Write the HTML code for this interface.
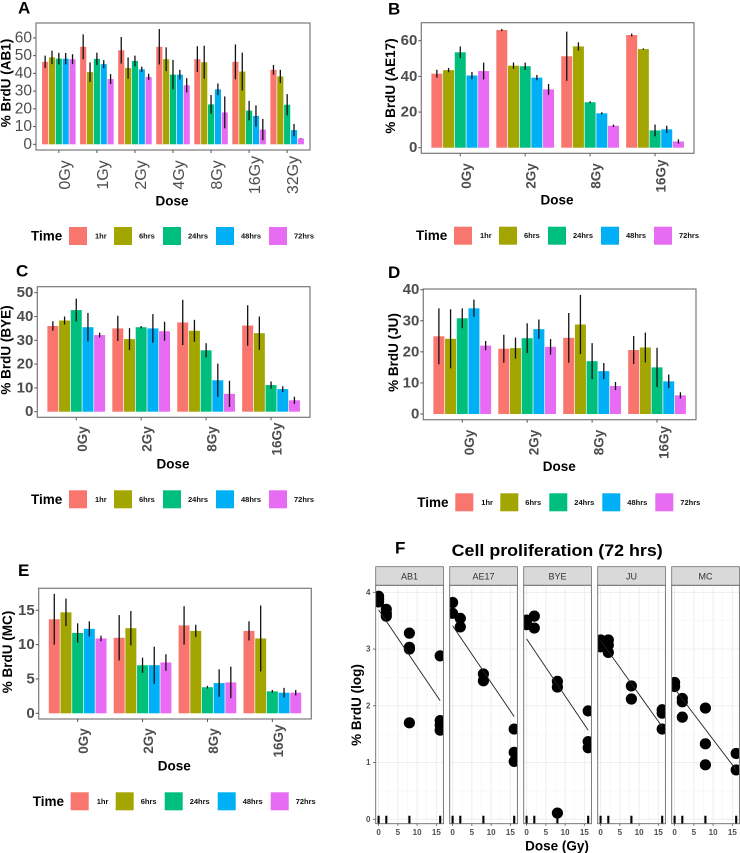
<!DOCTYPE html>
<html lang="en">
<head>
<meta charset="utf-8">
<title>BrdU dose response panels</title>
<style>
html,body{margin:0;padding:0;background:#fff;width:740px;height:853px;overflow:hidden}
svg{display:block;font-family:"Liberation Sans",sans-serif;filter:blur(0.3px)}
text{dominant-baseline:central}
</style>
</head>
<body>
<svg id="figure" width="740" height="853" viewBox="0 0 740 853" xmlns="http://www.w3.org/2000/svg"></svg>
<script>
const timeLabels = ['1hr', '6hrs', '24hrs', '48hrs', '72hrs'];
const timeColors = ['#F8766D', '#A3A500', '#00BF7D', '#00B0F6', '#E76BF3'];

const dosesA = ['0Gy', '1Gy', '2Gy', '4Gy', '8Gy', '16Gy', '32Gy'];
const dosesShort = ['0Gy', '2Gy', '8Gy', '16Gy'];

const ticksA = [0, 10, 20, 30, 40, 50, 60];
const valuesA = [
  [46.5, 49, 48.3, 48.3, 48],
  [55, 40.7, 48.2, 45.2, 36.8],
  [53, 43, 47, 42.3, 38],
  [55, 48, 39.3, 39.3, 33.3],
  [48, 46.3, 22.5, 31, 18],
  [46.5, 41, 19, 16, 8.3],
  [42, 38.3, 22.3, 8, 3.3]
];
const errorsA = [
  [3.5, 3.8, 3.3, 3.2, 2.8],
  [7, 5.5, 3.5, 2.3, 2.8],
  [7.5, 6, 3, 1.5, 1.8],
  [10, 6.7, 8.3, 2.7, 4],
  [7.3, 9.3, 5.3, 3.3, 9],
  [9.8, 10.7, 5.5, 6, 6],
  [2.7, 3.7, 6, 3.5, 0.2]
];

const ticksB = [0, 20, 40, 60];
const valuesB = [
  [41.5, 43.5, 53.5, 40.5, 43],
  [66, 46, 45.7, 39.3, 32.7],
  [51.3, 56.8, 25.5, 19.3, 12.3],
  [63.2, 55.3, 9.7, 10.3, 3.5]
];
const errorsB = [
  [2.2, 1.2, 3.3, 2, 4.7],
  [0.6, 1.8, 2, 1.5, 3],
  [13.8, 2.3, 0.5, 0.6, 0.7],
  [0.8, 0.4, 3.3, 2, 1.2]
];

const ticksC = [0, 10, 20, 30, 40, 50];
const valuesC = [
  [36, 38.3, 42.7, 35.5, 32.2],
  [35, 30.5, 35.5, 35, 33.8],
  [37.5, 34, 25.8, 13.2, 7.5],
  [36.2, 33, 11.2, 9.5, 4.8]
];
const errorsC = [
  [2, 1.7, 4.8, 6, 1],
  [5.3, 4.6, 0.5, 6, 4],
  [9.5, 4.6, 3, 7, 5.5],
  [8.5, 7, 1.5, 1.2, 1.5]
];

const ticksD = [0, 10, 20, 30, 40];
const valuesD = [
  [25, 24.2, 30.8, 34, 22],
  [21, 21.2, 24.4, 27.3, 21.6],
  [24.5, 28.8, 17, 13.8, 9],
  [20.6, 21.4, 15, 10.5, 6]
];
const errorsD = [
  [9, 9.5, 3.2, 2.8, 1.5],
  [4.5, 3.4, 4.8, 3.1, 2.5],
  [8, 9.5, 5.8, 2.6, 1.3],
  [4.5, 4.8, 6.3, 2.2, 1]
];

const ticksE = [0, 5, 10, 15];
const valuesE = [
  [13.7, 14.7, 11.7, 12.3, 10.9],
  [11, 12.4, 7, 7, 7.4],
  [12.8, 12, 3.8, 4.4, 4.5],
  [12, 10.9, 3.2, 3, 3]
];
const errorsE = [
  [3.7, 2, 1.4, 1.1, 0.4],
  [3.3, 2.5, 1.1, 2.7, 1.2],
  [2.8, 0.9, 0.2, 2, 2.3],
  [1.4, 4.8, 0.2, 0.7, 0.4]
];

const facetNames = ['AB1', 'AE17', 'BYE', 'JU', 'MC'];
const facetXTicks = [0, 5, 10, 15];
const facetYTicks = [0, 1, 2, 3, 4];
const pointDose = [
  [0, 0, 0, 2, 2, 2, 8, 8, 8, 8, 16, 16, 16, 16],
  [0, 0, 2, 2, 8, 8, 16, 16, 16],
  [0, 0, 2, 2, 8, 8, 8, 16, 16, 16],
  [0, 0, 0, 2, 2, 2, 8, 8, 16, 16, 16],
  [0, 0, 2, 2, 2, 8, 8, 8, 16, 16]
];
const pointLog = [
  [3.93, 3.88, 3.83, 3.7, 3.63, 3.58, 3.28, 3.03, 3, 1.7, 2.88, 1.74, 1.66, 1.57],
  [3.82, 3.63, 3.54, 3.39, 2.56, 2.44, 1.59, 1.18, 1.02],
  [3.51, 3.43, 3.58, 3.37, 2.43, 2.33, 0.11, 1.91, 1.37, 1.26],
  [3.16, 3.07, 3.04, 3.16, 3.07, 2.94, 2.35, 2.12, 1.93, 1.87, 1.59],
  [2.41, 2.34, 2.13, 2.07, 1.8, 1.96, 1.33, 0.96, 1.16, 0.87]
];
const fitStart = [3.69, 3.41, 3.18, 3.15, 2.3];
const fitEnd = [2.09, 1.81, 1.57, 1.63, 0.87];
const fitDoses = [0, 16];

const NS = 'http://www.w3.org/2000/svg';
const root = document.getElementById('figure');

function make(tag, attrs, parent) {
  const el = document.createElementNS(NS, tag);
  for (const k in attrs) el.setAttribute(k, attrs[k]);
  (parent || root).appendChild(el);
  return el;
}
function label(str, attrs, parent) {
  const el = make('text', attrs, parent);
  el.textContent = str;
  return el;
}

function drawLegend(parent, lx, ly) {
  const t = label('Time', {x: lx, y: ly, 'font-size': 13.5, 'font-weight': 700, fill: '#000'}, parent);
  
  
  const swatchOffsets = [38, 83, 132, 185, 238];
  const labelOffsets = [64, 108, 157, 210, 263];
  timeLabels.forEach((name, i) => {
    const s = make('rect', {x: lx + swatchOffsets[i], y: ly - 9, width: 18, height: 18, fill: timeColors[i]}, parent);
    
    
    const l = label(name, {x: lx + labelOffsets[i], y: ly, 'font-size': 7.5, 'font-weight': 700, fill: '#111'}, parent);
    
    
  });
}

function drawBarPanel(p) {
  const g = make('g', {});
  
  

  const letter = label(p.letter, {x: p.letterX, y: p.letterY, 'font-size': 17, 'font-weight': 700, fill: '#000'}, g);
  
  

  const [x0, y0, x1, y1] = p.box;
  const unit = (x1 - x0) / (p.doses.length - 1 + 1.2);
  const xScale = i => x0 + unit * (0.6 + i);
  const yScale = v => p.zeroY - v * p.pxPerUnit;
  const barW = unit * 0.9 / 5;

  p.values.forEach((row, gi) => {
    row.forEach((v, si) => {
      const bx = xScale(gi) - unit * 0.45 + si * barW;
      const b = make('rect', {x: bx + 0.35, y: yScale(v), width: barW - 0.7, height: p.zeroY - yScale(v), fill: timeColors[si]}, g);
      
      
    });
  });
  p.values.forEach((row, gi) => {
    row.forEach((v, si) => {
      const cx = xScale(gi) - unit * 0.45 + (si + 0.5) * barW;
      const e = p.errors[gi][si];
      const er = make('line', {x1: cx, x2: cx, y1: yScale(v - e), y2: yScale(v + e), stroke: '#111', 'stroke-width': 1.3}, g);
      
      
    });
  });

  const frame = make('rect', {x: x0, y: y0, width: x1 - x0, height: y1 - y0, fill: 'none', stroke: '#7a7a7a', 'stroke-width': 1.2}, g);
  
  

  const tickStyle = p.regular ? {weight: 400, ySize: 15.5, xSize: 16} : {weight: 700, ySize: 15, xSize: 13.5};
  p.ticks.forEach(v => {
    const m = make('line', {x1: x0 - 3, x2: x0, y1: yScale(v), y2: yScale(v), stroke: '#555', 'stroke-width': 1}, g);
    
    
    const t = label(String(v), {x: x0 - 4, y: yScale(v), 'text-anchor': 'end', 'font-size': tickStyle.ySize, 'font-weight': tickStyle.weight, fill: '#4d4d4d'}, g);
    
    
  });
  p.doses.forEach((d, i) => {
    const m = make('line', {x1: xScale(i), x2: xScale(i), y1: y1, y2: y1 + 3, stroke: '#555', 'stroke-width': 1}, g);
    
    
    const tx = xScale(i) + p.tickDx;
    const t = label(d, {x: tx, y: p.tickY, 'text-anchor': 'middle', 'font-size': tickStyle.xSize, 'font-weight': tickStyle.weight, fill: '#4d4d4d', transform: `rotate(-90 ${tx} ${p.tickY})`}, g);
    
    
  });

  const yt = label(p.yTitle, {x: p.yTitleX, y: p.yTitleY, 'text-anchor': 'middle', 'font-size': 13.5, 'font-weight': 700, fill: '#000', transform: `rotate(-90 ${p.yTitleX} ${p.yTitleY})`}, g);
  
  
  const xt = label('Dose', {x: p.xTitleX, y: p.xTitleY, 'text-anchor': 'middle', 'font-size': 13.5, 'font-weight': 700, fill: '#000'}, g);
  
  

  drawLegend(g, p.legendX, p.legendY);
}

drawBarPanel({letter: 'A', letterX: 18, letterY: 8, box: [36, 23, 310, 150], zeroY: 144.3, pxPerUnit: 1.773, regular: true,
  doses: dosesA, ticks: ticksA, values: valuesA, errors: errorsA, tickDx: 6.5, tickY: 175,
  yTitle: '% BrdU (AB1)', yTitleX: 6, yTitleY: 83, xTitleX: 172, xTitleY: 201, legendX: 31, legendY: 236});
drawBarPanel({letter: 'B', letterX: 388, letterY: 9, box: [421.3, 22.7, 694, 153.3], zeroY: 147.7, pxPerUnit: 1.783,
  doses: dosesShort, ticks: ticksB, values: valuesB, errors: errorsB, tickDx: 6, tickY: 176,
  yTitle: '% BrdU (AE17)', yTitleX: 390.7, yTitleY: 86, xTitleX: 557, xTitleY: 200, legendX: 416, legendY: 235.7});
drawBarPanel({letter: 'C', letterX: 16, letterY: 271, box: [37.3, 286.7, 310, 417.3], zeroY: 411.7, pxPerUnit: 2.38,
  doses: dosesShort, ticks: ticksC, values: valuesC, errors: errorsC, tickDx: 6, tickY: 439,
  yTitle: '% BrdU (BYE)', yTitleX: 6, yTitleY: 350, xTitleX: 173, xTitleY: 464, legendX: 31, legendY: 499.3});
drawBarPanel({letter: 'D', letterX: 388, letterY: 272.5, box: [423.3, 289, 696, 419.7], zeroY: 414, pxPerUnit: 3.108,
  doses: dosesShort, ticks: ticksD, values: valuesD, errors: errorsD, tickDx: 7, tickY: 442.5,
  yTitle: '% BrdU (JU)', yTitleX: 393.3, yTitleY: 352.5, xTitleX: 559.3, xTitleY: 466.7, legendX: 417.3, legendY: 502.3});
drawBarPanel({letter: 'E', letterX: 18, letterY: 570.5, box: [38.7, 588.3, 311.3, 719], zeroY: 713.3, pxPerUnit: 6.867,
  doses: dosesShort, ticks: ticksE, values: valuesE, errors: errorsE, tickDx: 6, tickY: 741,
  yTitle: '% BrdU (MC)', yTitleX: 7.3, yTitleY: 652, xTitleX: 174.3, xTitleY: 766, legendX: 32.7, legendY: 801.3});

function drawFacets() {
  const g = make('g', {});
  
  

  const letter = label('F', {x: 395, y: 548, 'font-size': 17, 'font-weight': 700, fill: '#000'}, g);
  
  
  const title = label('Cell proliferation (72 hrs)', {x: 451.7, y: 551, 'font-size': 16.5, 'font-weight': 700, fill: '#000', textLength: 211, lengthAdjust: 'spacingAndGlyphs'}, g);
  
  
  const yt = label('% BrdU (log)', {x: 356.7, y: 705, 'text-anchor': 'middle', 'font-size': 13.5, 'font-weight': 700, fill: '#000', transform: 'rotate(-90 356.7 705)'}, g);
  
  
  const xt = label('Dose (Gy)', {x: 557, y: 846, 'text-anchor': 'middle', 'font-size': 13.5, 'font-weight': 700, fill: '#000'}, g);
  
  

  const top = 585.3, bottom = 823.7, w = 67.7;
  const yScale = v => 819.3 - v * 56.75;
  const defs = make('defs', {}, g);

  facetYTicks.forEach(v => {
    const m = make('line', {x1: 373, x2: 375.7, y1: yScale(v), y2: yScale(v), stroke: '#555', 'stroke-width': 0.8}, g);
    
    
    const t = label(String(v), {x: 370.5, y: yScale(v), 'text-anchor': 'end', 'font-size': 8, 'font-weight': 700, fill: '#4d4d4d'}, g);
    
    
  });

  facetNames.forEach((name, fi) => {
    const left = 375.7 + fi * 74;
    const xScale = d => left + 2.9 + d * 3.85;
    const fg = make('g', {}, g);
    
    

    const clip = make('clipPath', {id: 'clip' + fi}, defs);
    make('rect', {x: left, y: top, width: w, height: bottom - top}, clip);

    const strip = make('rect', {x: left, y: 566.7, width: w, height: 18.6, fill: '#d9d9d9', stroke: '#6a6a6a', 'stroke-width': 0.8}, fg);
    
    
    const st = label(name, {x: left + w / 2, y: 576.3, 'text-anchor': 'middle', 'font-size': 9, fill: '#333'}, fg);
    
    

    facetXTicks.forEach(d => {
      const gl = make('line', {x1: xScale(d), x2: xScale(d), y1: top, y2: bottom, stroke: '#ebebeb', 'stroke-width': 0.9}, fg);
      
      
      const gm = make('line', {x1: xScale(d + 2.5), x2: xScale(d + 2.5), y1: top, y2: bottom, stroke: '#f4f4f4', 'stroke-width': 0.6}, fg);
      
      
      const m = make('line', {x1: xScale(d), x2: xScale(d), y1: bottom, y2: bottom + 2.2, stroke: '#555', 'stroke-width': 0.8}, fg);
      
      
      const t = label(String(d), {x: xScale(d), y: 832.3, 'text-anchor': 'middle', 'font-size': 8, 'font-weight': 700, fill: '#4d4d4d'}, fg);
      
      
    });
    facetYTicks.forEach(v => {
      const gl = make('line', {x1: left, x2: left + w, y1: yScale(v), y2: yScale(v), stroke: '#ebebeb', 'stroke-width': 0.9}, fg);
      
      
      const gm = make('line', {x1: left, x2: left + w, y1: yScale(v + 0.5), y2: yScale(v + 0.5), stroke: '#f4f4f4', 'stroke-width': 0.6}, fg);
      
      
    });

    const inner = make('g', {'clip-path': `url(#clip${fi})`}, fg);
    pointDose[fi].forEach((d, i) => {
      const c = make('circle', {cx: xScale(d), cy: yScale(pointLog[fi][i]), r: 5.6, fill: '#000'}, inner);
      
      
    });
    const fit = make('line', {x1: xScale(fitDoses[0]), y1: yScale(fitStart[fi]), x2: xScale(fitDoses[1]), y2: yScale(fitEnd[fi]), stroke: '#222', 'stroke-width': 0.9}, inner);
    
    
    [...new Set(pointDose[fi])].forEach(d => {
      const r = make('line', {x1: xScale(d), x2: xScale(d), y1: bottom - 8, y2: bottom, stroke: '#000', 'stroke-width': 2.1}, inner);
      
      
    });

    const frame = make('rect', {x: left, y: top, width: w, height: bottom - top, fill: 'none', stroke: '#6a6a6a', 'stroke-width': 0.9}, fg);
    
    
  });
}
drawFacets();
</script>
</body>
</html>
